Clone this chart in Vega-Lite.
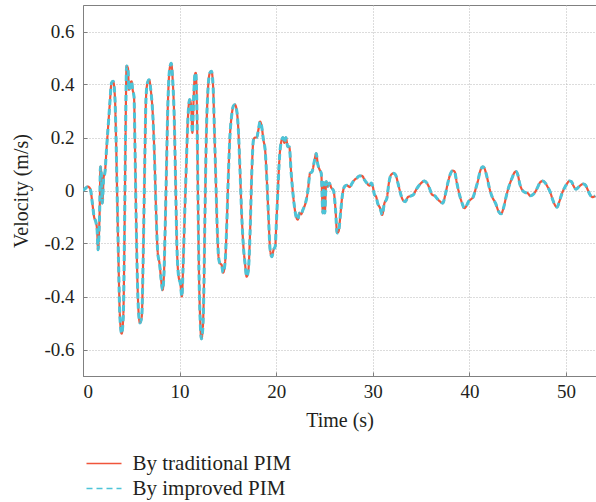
{
  "$schema": "https://vega.github.io/schema/vega-lite/v6.json",
  "width": 513,
  "height": 371,
  "autosize": {"type": "none"},
  "padding": {"left": 83, "top": 5, "right": 0, "bottom": 126},
  "background": "white",
  "config": {
    "font": "Liberation Serif",
    "view": {"stroke": "#808080", "strokeWidth": 1},
    "axis": {
      "labelFont": "Liberation Serif",
      "titleFont": "Liberation Serif",
      "labelFontSize": 19,
      "titleFontSize": 20,
      "labelColor": "#231f20",
      "titleColor": "#231f20",
      "titleFontWeight": "normal",
      "domainColor": "#808080",
      "tickColor": "#808080",
      "tickSize": -4,
      "gridColor": "#b8b8b8",
      "gridDash": [1, 2],
      "gridWidth": 1
    },
    "legend": {
      "labelFont": "Liberation Serif",
      "labelFontSize": 21,
      "labelColor": "#231f20",
      "padding": 0
    }
  },
  "data": {
    "values": [
      {"t": 0, "v": 0}, {"t": 0.17, "v": 0.005}, {"t": 0.52, "v": 0.015}, {"t": 0.76, "v": 0.005},
      {"t": 0.97, "v": -0.048}, {"t": 1.15, "v": -0.1}, {"t": 1.32, "v": -0.117}, {"t": 1.46, "v": -0.149},
      {"t": 1.56, "v": -0.224}, {"t": 1.67, "v": -0.149}, {"t": 1.74, "v": -0.048}, {"t": 1.8, "v": 0.09},
      {"t": 1.91, "v": 0.053}, {"t": 2.0, "v": -0.048}, {"t": 2.15, "v": 0.053}, {"t": 2.26, "v": 0.065},
      {"t": 2.43, "v": 0.154}, {"t": 2.6, "v": 0.24}, {"t": 2.78, "v": 0.33}, {"t": 2.95, "v": 0.406},
      {"t": 3.12, "v": 0.412}, {"t": 3.3, "v": 0.355}, {"t": 3.4, "v": 0.23}, {"t": 3.54, "v": -0.023},
      {"t": 3.68, "v": -0.275}, {"t": 3.82, "v": -0.476}, {"t": 4.0, "v": -0.54}, {"t": 4.17, "v": -0.476},
      {"t": 4.3, "v": -0.15}, {"t": 4.41, "v": 0.23}, {"t": 4.51, "v": 0.47}, {"t": 4.65, "v": 0.462},
      {"t": 4.76, "v": 0.38}, {"t": 4.9, "v": 0.406}, {"t": 5.03, "v": 0.412}, {"t": 5.14, "v": 0.38},
      {"t": 5.28, "v": 0.355}, {"t": 5.38, "v": 0.166}, {"t": 5.49, "v": -0.086}, {"t": 5.63, "v": -0.338},
      {"t": 5.76, "v": -0.464}, {"t": 5.9, "v": -0.5}, {"t": 6.08, "v": -0.476}, {"t": 6.25, "v": -0.21},
      {"t": 6.39, "v": 0.1}, {"t": 6.53, "v": 0.355}, {"t": 6.67, "v": 0.406}, {"t": 6.84, "v": 0.418},
      {"t": 7.05, "v": 0.368}, {"t": 7.22, "v": 0.29}, {"t": 7.4, "v": 0.128}, {"t": 7.57, "v": -0.086},
      {"t": 7.74, "v": -0.237}, {"t": 7.92, "v": -0.275}, {"t": 8.09, "v": -0.338}, {"t": 8.23, "v": -0.376},
      {"t": 8.37, "v": -0.325}, {"t": 8.5, "v": -0.15}, {"t": 8.65, "v": 0.1}, {"t": 8.78, "v": 0.318},
      {"t": 8.96, "v": 0.456}, {"t": 9.13, "v": 0.48}, {"t": 9.3, "v": 0.406}, {"t": 9.44, "v": 0.28},
      {"t": 9.58, "v": 0.04}, {"t": 9.72, "v": -0.21}, {"t": 9.9, "v": -0.325}, {"t": 10.07, "v": -0.35},
      {"t": 10.24, "v": -0.4}, {"t": 10.35, "v": -0.3}, {"t": 10.52, "v": -0.098}, {"t": 10.7, "v": 0.103},
      {"t": 10.87, "v": 0.28}, {"t": 11.04, "v": 0.343}, {"t": 11.2, "v": 0.318}, {"t": 11.32, "v": 0.217},
      {"t": 11.46, "v": 0.355}, {"t": 11.56, "v": 0.43}, {"t": 11.67, "v": 0.444}, {"t": 11.8, "v": 0.29},
      {"t": 11.9, "v": -0.023}, {"t": 12.0, "v": -0.3}, {"t": 12.12, "v": -0.48}, {"t": 12.25, "v": -0.56},
      {"t": 12.4, "v": -0.52}, {"t": 12.5, "v": -0.4}, {"t": 12.6, "v": -0.15}, {"t": 12.78, "v": 0.23},
      {"t": 12.95, "v": 0.39}, {"t": 13.13, "v": 0.444}, {"t": 13.3, "v": 0.45}, {"t": 13.47, "v": 0.39},
      {"t": 13.6, "v": 0.23}, {"t": 13.75, "v": 0.04}, {"t": 13.9, "v": -0.15}, {"t": 14.03, "v": -0.25},
      {"t": 14.17, "v": -0.275}, {"t": 14.34, "v": -0.28}, {"t": 14.5, "v": -0.31}, {"t": 14.7, "v": -0.275},
      {"t": 14.86, "v": -0.15}, {"t": 15.03, "v": 0.04}, {"t": 15.2, "v": 0.2}, {"t": 15.38, "v": 0.28},
      {"t": 15.56, "v": 0.318}, {"t": 15.73, "v": 0.324}, {"t": 15.9, "v": 0.305}, {"t": 16.08, "v": 0.23},
      {"t": 16.25, "v": 0.078}, {"t": 16.42, "v": -0.086}, {"t": 16.6, "v": -0.21}, {"t": 16.77, "v": -0.275},
      {"t": 16.94, "v": -0.325}, {"t": 17.12, "v": -0.3}, {"t": 17.3, "v": -0.15}, {"t": 17.47, "v": 0.066},
      {"t": 17.64, "v": 0.19}, {"t": 17.8, "v": 0.2}, {"t": 17.98, "v": 0.2}, {"t": 18.16, "v": 0.23},
      {"t": 18.33, "v": 0.26}, {"t": 18.5, "v": 0.24}, {"t": 18.68, "v": 0.19}, {"t": 18.85, "v": 0.154},
      {"t": 19.03, "v": 0.04}, {"t": 19.2, "v": -0.098}, {"t": 19.37, "v": -0.224}, {"t": 19.55, "v": -0.25},
      {"t": 19.72, "v": -0.224}, {"t": 19.9, "v": -0.21}, {"t": 20.0, "v": -0.135}, {"t": 20.17, "v": 0},
      {"t": 20.35, "v": 0.13}, {"t": 20.5, "v": 0.18}, {"t": 20.7, "v": 0.2}, {"t": 20.85, "v": 0.18},
      {"t": 21.0, "v": 0.2}, {"t": 21.2, "v": 0.165}, {"t": 21.35, "v": 0.165}, {"t": 21.55, "v": 0.065},
      {"t": 21.8, "v": -0.035}, {"t": 22.07, "v": -0.1}, {"t": 22.24, "v": -0.11}, {"t": 22.4, "v": -0.085},
      {"t": 22.58, "v": -0.09}, {"t": 22.76, "v": -0.073}, {"t": 23.03, "v": -0.048}, {"t": 23.28, "v": 0},
      {"t": 23.5, "v": 0.065}, {"t": 23.7, "v": 0.07}, {"t": 23.97, "v": 0.115}, {"t": 24.14, "v": 0.14},
      {"t": 24.3, "v": 0.1}, {"t": 24.5, "v": 0.078}, {"t": 24.66, "v": 0.065}, {"t": 24.83, "v": -0.085},
      {"t": 24.93, "v": 0.03}, {"t": 25.03, "v": -0.085}, {"t": 25.17, "v": 0.034}, {"t": 25.34, "v": 0.015},
      {"t": 25.5, "v": 0.028}, {"t": 25.7, "v": 0.01}, {"t": 25.93, "v": 0}, {"t": 26.14, "v": -0.073},
      {"t": 26.3, "v": -0.16}, {"t": 26.45, "v": -0.155}, {"t": 26.66, "v": -0.085}, {"t": 26.83, "v": -0.023},
      {"t": 27.07, "v": 0.015}, {"t": 27.3, "v": 0.02}, {"t": 27.6, "v": 0.013}, {"t": 27.86, "v": 0.028},
      {"t": 28.1, "v": 0.04}, {"t": 28.34, "v": 0.047}, {"t": 28.6, "v": 0.055}, {"t": 28.9, "v": 0.055},
      {"t": 29.14, "v": 0.04}, {"t": 29.38, "v": 0.028}, {"t": 29.66, "v": 0.018}, {"t": 29.83, "v": 0.028},
      {"t": 30.0, "v": 0.015}, {"t": 30.17, "v": -0.016}, {"t": 30.34, "v": -0.023}, {"t": 30.5, "v": -0.048},
      {"t": 30.76, "v": -0.067}, {"t": 30.97, "v": -0.092}, {"t": 31.2, "v": -0.048}, {"t": 31.45, "v": -0.03},
      {"t": 31.66, "v": 0.028}, {"t": 31.9, "v": 0.06}, {"t": 32.14, "v": 0.065}, {"t": 32.34, "v": 0.06},
      {"t": 32.6, "v": 0.028}, {"t": 32.86, "v": -0.01}, {"t": 33.1, "v": -0.035}, {"t": 33.38, "v": -0.042},
      {"t": 33.62, "v": -0.025}, {"t": 33.97, "v": -0.02}, {"t": 34.2, "v": -0.016}, {"t": 34.48, "v": 0.003},
      {"t": 34.76, "v": 0.018}, {"t": 35.0, "v": 0.028}, {"t": 35.34, "v": 0.036}, {"t": 35.6, "v": 0.028},
      {"t": 35.86, "v": 0.009}, {"t": 36.14, "v": -0.016}, {"t": 36.4, "v": -0.02}, {"t": 36.72, "v": -0.033},
      {"t": 36.97, "v": -0.042}, {"t": 37.24, "v": -0.048}, {"t": 37.5, "v": -0.016}, {"t": 37.76, "v": 0.028},
      {"t": 38.0, "v": 0.06}, {"t": 38.28, "v": 0.075}, {"t": 38.45, "v": 0.072}, {"t": 38.7, "v": 0.028},
      {"t": 38.97, "v": -0.016}, {"t": 39.24, "v": -0.048}, {"t": 39.48, "v": -0.067}, {"t": 39.66, "v": -0.06},
      {"t": 39.9, "v": -0.042}, {"t": 40.17, "v": -0.033}, {"t": 40.41, "v": -0.023}, {"t": 40.62, "v": 0.003},
      {"t": 40.86, "v": 0.034}, {"t": 41.1, "v": 0.072}, {"t": 41.38, "v": 0.09}, {"t": 41.55, "v": 0.084},
      {"t": 41.8, "v": 0.053}, {"t": 42.07, "v": 0.009}, {"t": 42.34, "v": -0.023}, {"t": 42.7, "v": -0.048},
      {"t": 43.03, "v": -0.08}, {"t": 43.28, "v": -0.088}, {"t": 43.52, "v": -0.067}, {"t": 43.8, "v": -0.023},
      {"t": 44.07, "v": 0.013}, {"t": 44.41, "v": 0.047}, {"t": 44.66, "v": 0.068}, {"t": 44.83, "v": 0.072},
      {"t": 45.0, "v": 0.06}, {"t": 45.24, "v": 0.021}, {"t": 45.5, "v": 0}, {"t": 45.8, "v": -0.008},
      {"t": 46.03, "v": -0.01}, {"t": 46.28, "v": -0.02}, {"t": 46.55, "v": -0.016}, {"t": 46.83, "v": -0.004},
      {"t": 47.07, "v": 0.013}, {"t": 47.3, "v": 0.03}, {"t": 47.6, "v": 0.036}, {"t": 47.86, "v": 0.028},
      {"t": 48.1, "v": 0.013}, {"t": 48.34, "v": -0.004}, {"t": 48.62, "v": -0.035}, {"t": 48.9, "v": -0.058},
      {"t": 49.07, "v": -0.063}, {"t": 49.3, "v": -0.042}, {"t": 49.59, "v": -0.01}, {"t": 49.83, "v": 0.009},
      {"t": 50.07, "v": 0.024}, {"t": 50.34, "v": 0.036}, {"t": 50.55, "v": 0.034}, {"t": 50.76, "v": 0.018},
      {"t": 51.03, "v": 0.005}, {"t": 51.3, "v": 0.013}, {"t": 51.55, "v": 0.021}, {"t": 51.8, "v": 0.025},
      {"t": 52.0, "v": 0.021}, {"t": 52.24, "v": 0.003}, {"t": 52.48, "v": -0.016}, {"t": 52.76, "v": -0.025},
      {"t": 53.03, "v": -0.02}
    ]
  },
  "encoding": {
    "x": {
      "field": "t", "type": "quantitative",
      "scale": {"domain": [0, 53.1], "nice": false, "zero": false},
      "axis": {"title": "Time (s)", "values": [0, 10, 20, 30, 40, 50], "labelPadding": 10, "titlePadding": 9, "format": "d"}
    },
    "y": {
      "field": "v", "type": "quantitative",
      "scale": {"domain": [-0.7, 0.7], "nice": false},
      "axis": {
        "title": "Velocity (m/s)",
        "values": [-0.6, -0.4, -0.2, 0, 0.2, 0.4, 0.6],
        "labelExpr": "datum.value == 0 ? '0' : toString(round(datum.value * 10) / 10)",
        "labelPadding": 13,
        "titlePadding": 12
      }
    }
  },
  "layer": [
    {
      "mark": {"type": "line", "strokeWidth": 2.2, "clip": true, "interpolate": "monotone"},
      "encoding": {
        "color": {
          "datum": "By traditional PIM",
          "scale": {"domain": ["By traditional PIM", "By improved PIM"], "range": ["#f0553b", "#4cc4d8"]},
          "legend": {
            "title": null,
            "orient": "none",
            "legendX": 10.5,
            "legendY": 448,
            "symbolType": "M-2.1875,0H2.1875",
            "symbolSize": 256,
            "symbolStrokeWidth": 1.5,
            "labelOffset": 18,
            "rowPadding": 3
          }
        },
        "strokeDash": {
          "datum": "By traditional PIM",
          "scale": {"domain": ["By traditional PIM", "By improved PIM"], "range": [[1, 0], [6, 4]]}
        }
      }
    },
    {
      "mark": {"type": "line", "strokeWidth": 3, "clip": true, "interpolate": "monotone"},
      "encoding": {
        "color": {"datum": "By improved PIM"},
        "strokeDash": {"datum": "By improved PIM"}
      }
    }
  ]
}
